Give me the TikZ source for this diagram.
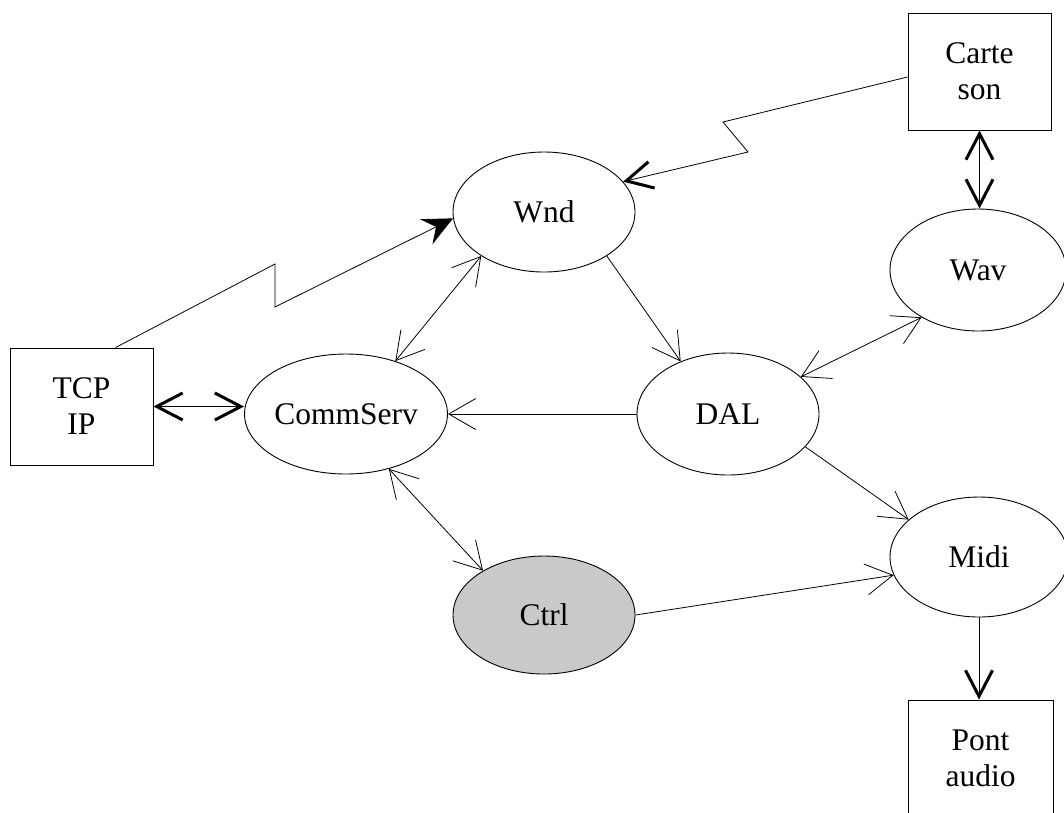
\documentclass[tikz,border=0pt]{standalone}
\usepackage{fontspec}
\setmainfont{Liberation Serif}
\usetikzlibrary{arrows.meta,shapes.geometric}

\tikzset{
  every node/.style={font=\fontsize{31.5}{36}\selectfont, align=center, inner sep=0pt},
  module/.style={ellipse, draw, line width=0.9pt},
  device/.style={rectangle, draw, line width=0.9pt, minimum width=143pt, minimum height=117pt},
  link/.style={line width=0.8pt, line join=miter},
  to small/.style={-{Straight Barb[length=27pt, width=31pt, line width=0.8pt]}},
  both small/.style={{Straight Barb[length=27pt, width=31pt, line width=0.8pt]}-{Straight Barb[length=27pt, width=31pt, line width=0.8pt]}},
  to big/.style={-{Straight Barb[length=26pt, width=27pt, line width=3pt]}},
  both big/.style={{Straight Barb[length=26pt, width=27pt, line width=3pt]}-{Straight Barb[length=26pt, width=27pt, line width=3pt]}},
  to solid/.style={-{Stealth[length=30pt, width=28pt, inset=11pt]}},
}

\begin{document}
\begin{tikzpicture}[x=1pt, y=-1pt]
  \useasboundingbox (0,0) rectangle (1064,812);

  % external devices
  \node[device] (tcp)   at (81.5,406.5) {TCP\\IP};
  \node[device] (carte) at (979.5,71.5) {Carte\\son};
  \node[device, minimum width=145pt] (pont) at (980.5,758.5) {Pont\\audio};

  % software modules
  \node[module, minimum width=182pt, minimum height=120pt] (wnd)      at (544,212) {Wnd};
  \node[module, minimum width=182pt, minimum height=120pt] (commserv) at (346,414) {CommServ};
  \node[module, minimum width=182pt, minimum height=122pt] (dal)      at (728,414) {DAL};
  \node[module, minimum width=176pt, minimum height=122pt] (wav)      at (978,270) {Wav};
  \node[module, minimum width=178pt, minimum height=120pt] (midi)     at (979,557) {Midi};
  \node[module, fill=gray!42, minimum width=182pt, minimum height=118pt] (ctrl) at (544,615) {Ctrl};

  % network and sound-card links (broken lines)
  \draw[link, to solid] ([xshift=34pt]tcp.north) -- (275,264) -- (275,307) -- (wnd.184);
  \draw[link, to big] ([yshift=-5.5pt]carte.west) -- (723,122) -- (748,152) -- (wnd.21);

  % heavy links to devices
  \draw[link, both big] (tcp.east) -- (tcp.east -| commserv.west);
  \draw[link, both big] (carte.south) -- (carte.south |- wav.north);
  \draw[link, to big] (midi.south) -- (midi.south |- pont.north);

  % links between modules
  \draw[link, both small] (wnd.215) -- (commserv.47);
  \draw[link, to small] (wnd.-35) -- (dal.132);
  \draw[link, to small] (dal.west) -- (commserv.east);
  \draw[link, both small] (wav.220) -- (dal.27);
  \draw[link, to small] (dal.-23) -- (midi.152);
  \draw[link, both small] (commserv.-52) -- (ctrl.144);
  \draw[link, to small] (ctrl.east) -- (midi.192);
\end{tikzpicture}
\end{document}
